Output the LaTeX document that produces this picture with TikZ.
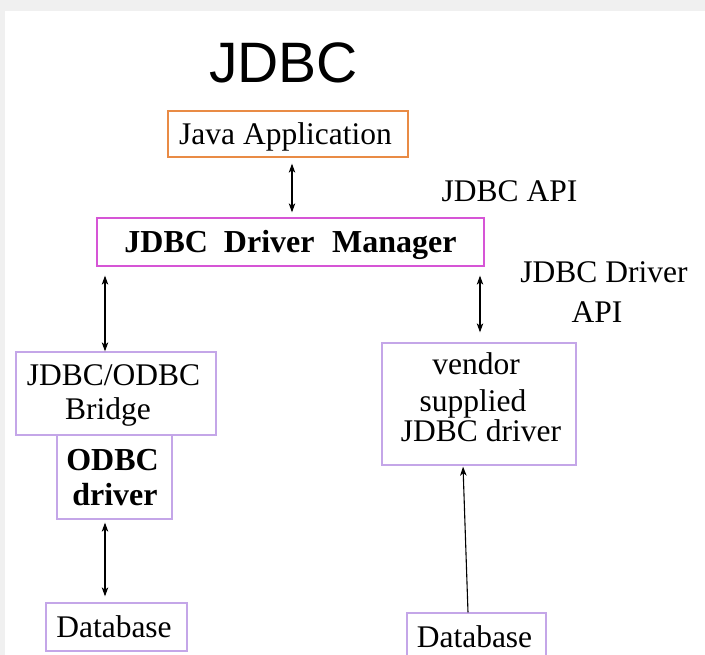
\documentclass[tikz,border=0pt]{standalone}
\usepackage{fontspec}
\setmainfont{Liberation Serif}
\newfontfamily\titlefont{Liberation Sans}
\usetikzlibrary{arrows.meta}

\definecolor{pagegray}{HTML}{F0F0F0}
\definecolor{appedge}{HTML}{E98B45}
\definecolor{mgredge}{HTML}{D655D6}
\definecolor{drvedge}{HTML}{C4A6E8}

\tikzset{
  boxbase/.style={draw, line width=1.3pt, inner sep=0pt},
  appbox/.style={boxbase, draw=appedge},
  mgrbox/.style={boxbase, draw=mgredge},
  drvbox/.style={boxbase, draw=drvedge},
  lbl/.style={anchor=base, inner sep=0pt, font=\fontsize{31.5}{35}\selectfont},
  blbl/.style={lbl, font=\fontsize{32}{35}\selectfont\bfseries},
  tip/.style={Stealth[length=9pt,width=6.5pt,inset=2.5pt]},
  link/.style={line width=1.1pt, {Stealth[length=9pt,width=6.5pt,inset=2.5pt]}-{Stealth[length=9pt,width=6.5pt,inset=2.5pt]}},
  uplink/.style={line width=1.1pt, -{Stealth[length=9pt,width=6.5pt,inset=2.5pt]}}
}

% a drawn box node: style, name, centre, width, height
\newcommand{\boxat}[5]{%
  \node[#1, minimum width={#4}, minimum height={#5}] (#2) at (#3) {};}

\begin{document}
\begin{tikzpicture}[x=1pt,y=-1pt]
  \useasboundingbox (0,0) rectangle (705,655);
  \fill[pagegray] (0,0) rectangle (705,655);
  \fill[white] (5,11) rectangle (705,655);

  % title
  \node[anchor=base, inner sep=0pt, font=\titlefont\fontsize{57}{60}\selectfont] (title) at (283.5,83) {JDBC};

  % boxes
  \boxat{appbox}{java}{288,134}{240pt}{46pt}
  \boxat{mgrbox}{dm}{290.5,242}{387pt}{48pt}
  \boxat{drvbox}{bridge}{116,393.5}{200pt}{83pt}
  \boxat{drvbox}{odbc}{114.5,477}{115pt}{84pt}
  \boxat{drvbox}{vendor}{479,404}{194pt}{122pt}
  \boxat{drvbox}{dbl}{116.5,627}{141pt}{48pt}
  \boxat{drvbox}{dbr}{476.5,640}{139pt}{54pt}

  % box texts
  \node[lbl] (javatxt) at (285.5,145) {Java Application};
  \node[blbl] (dmtxt) at (290.5,253) {JDBC\hspace{0.5em}Driver\hspace{0.55em}Manager};
  \node[lbl] (bridgetxt1) at (113.5,385) {JDBC/ODBC};
  \node[lbl] (bridgetxt2) at (108,420) {Bridge};
  \node[blbl] (odbctxt1) at (112.5,470) {ODBC};
  \node[blbl] (odbctxt2) at (115,505) {driver};
  \node[lbl] (vendortxt1) at (476,375) {vendor};
  \node[lbl] (vendortxt2) at (473,412) {supplied};
  \node[lbl] (vendortxt3) at (481,442) {JDBC driver};
  \node[lbl] (dbltxt) at (114,637) {Database};
  \node[lbl] (dbrtxt) at (474.5,647) {Database};

  % side labels
  \node[lbl] (apilbl) at (509.5,202) {JDBC API};
  \node[lbl] (drvapi1) at (604,283) {JDBC Driver};
  \node[lbl] (drvapi2) at (597,323) {API};

  % connectors
  \draw[link, shorten <=6pt, shorten >=5pt] (292,0 |- java.south) -- (292,0 |- dm.north);
  \draw[link, shorten <=9pt] (105,0 |- dm.south) -- (105,0 |- bridge.north);
  \draw[link, shorten <=9pt, shorten >=10pt] (480,0 |- dm.south) -- (480,0 |- vendor.north);
  \draw[link, shorten <=3pt, shorten >=6pt] (105,0 |- odbc.south) -- (105,0 |- dbl.north);
  \draw[uplink, shorten >=1pt] (468,0 |- dbr.north) -- (463,0 |- vendor.south);
\end{tikzpicture}
\end{document}
